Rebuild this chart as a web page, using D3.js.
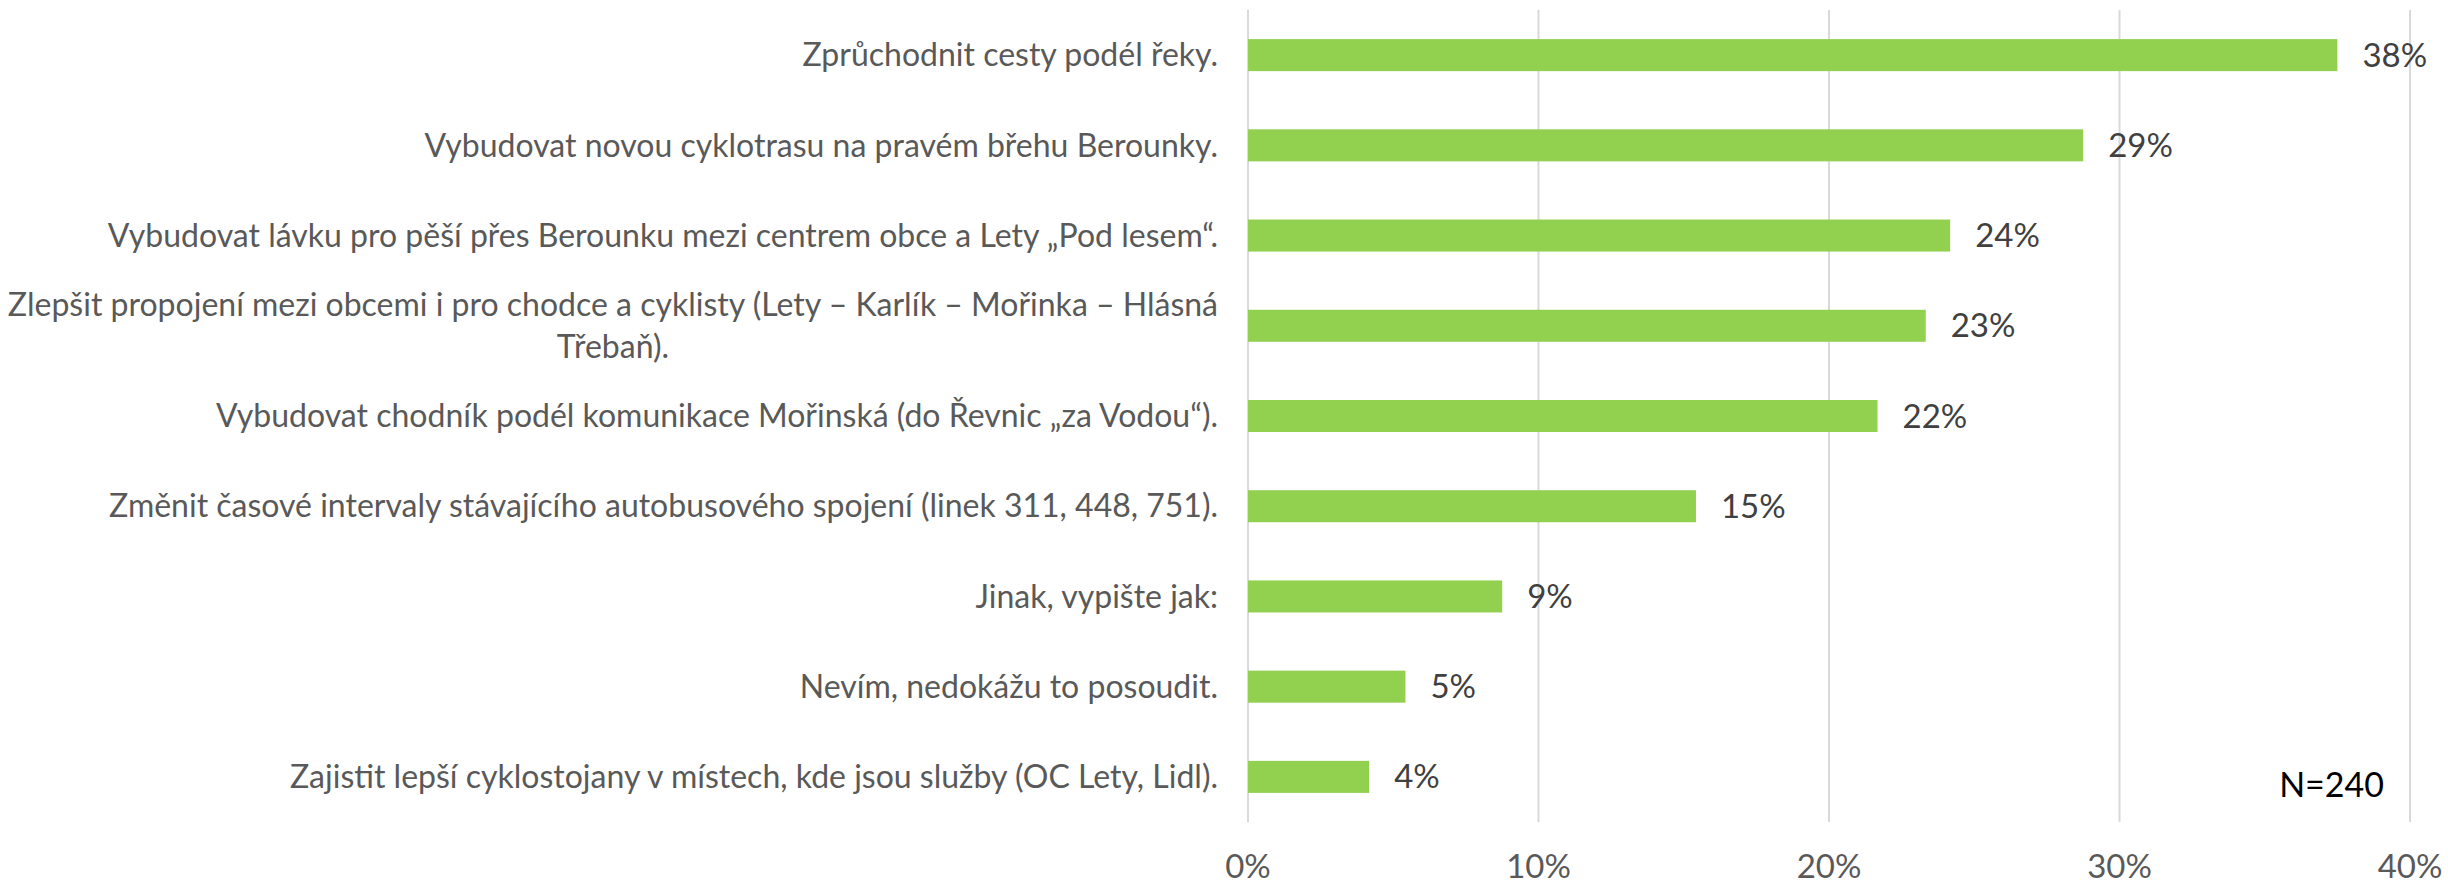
<!DOCTYPE html>
<html>
<head>
<meta charset="utf-8">
<script src="https://cdn.jsdelivr.net/npm/d3@7"></script>
<style>
  body { margin: 0; background: #fff; }
  text { font-family: Lato, "Open Sans", sans-serif; }
</style>
</head>
<body>
<div id="chart"></div>
<script>
const categories = [
    'Zprůchodnit cesty podél řeky.',
    'Vybudovat novou cyklotrasu na pravém břehu Berounky.',
    'Vybudovat lávku pro pěší přes Berounku mezi centrem obce a Lety „Pod lesem“.',
    'Zlepšit propojení mezi obcemi i pro chodce a cyklisty (Lety – Karlík – Mořinka – Hlásná|Třebaň).',
    'Vybudovat chodník podél komunikace Mořinská (do Řevnic „za Vodou“).',
    'Změnit časové intervaly stávajícího autobusového spojení (linek 311, 448, 751).',
    'Jinak, vypište jak:',
    'Nevím, nedokážu to posoudit.',
    'Zajistit lepší cyklostojany v místech, kde jsou služby (OC Lety, Lidl).'
];
const values = [0.375, 0.2875, 0.2417, 0.2333, 0.2167, 0.1542, 0.0875, 0.0542, 0.0417];
const xTicks = [0, 0.1, 0.2, 0.3, 0.4];
const note = 'N=240';

const width = 2448;
const height = 888;

const svg = d3.select('#chart').append('svg')
    .attr('width', width)
    .attr('height', height);

const x = d3.scaleLinear()
    .domain([0, 0.4])
    .range([1248, 2410]);

const y = d3.scaleBand()
    .domain(categories)
    .range([10, 822])
    .paddingInner(0.645)
    .paddingOuter(0.3225);

// gridlines
svg.append('g')
    .selectAll('line')
    .data(xTicks)
    .enter()
    .append('line')
    .attr('x1', d => x(d))
    .attr('x2', d => x(d))
    .attr('y1', 10)
    .attr('y2', 822)
    .attr('stroke', '#d9d9d9')
    .attr('stroke-width', 2);

// bars
svg.append('g')
    .selectAll('rect')
    .data(values)
    .enter()
    .append('rect')
    .attr('x', x(0))
    .attr('y', (d, i) => y(categories[i]))
    .attr('width', d => x(d) - x(0))
    .attr('height', y.bandwidth())
    .attr('fill', '#92d050');

// value labels
svg.append('g')
    .selectAll('text')
    .data(values)
    .enter()
    .append('text')
    .attr('x', d => x(d) + 25)
    .attr('y', (d, i) => y(categories[i]) + y.bandwidth() / 2)
    .attr('dy', '0.35em')
    .attr('font-size', 33)
    .attr('fill', '#404040')
    .text(d => Math.round(d * 100) + '%');

// category labels
const labels = svg.append('g')
    .selectAll('text')
    .data(categories)
    .enter()
    .append('text')
    .attr('font-size', 32)
    .attr('fill', '#595959');

labels.each(function(d) {
    const lines = d.split('|');
    const cy = y(d) + y.bandwidth() / 2;
    const t = d3.select(this);
    if (lines.length === 1) {
        t.attr('x', 1218).attr('y', cy).attr('dy', '0.35em')
            .attr('text-anchor', 'end').text(d);
    } else {
        // first line right-aligned, the rest centred under it
        const first = t.append('tspan')
            .attr('x', 1218).attr('y', cy - 21).attr('dy', '0.35em')
            .attr('text-anchor', 'end').text(lines[0]);
        const w = first.node().getComputedTextLength();
        t.append('tspan')
            .attr('x', 1218 - w / 2).attr('y', cy + 21).attr('dy', '0.35em')
            .attr('text-anchor', 'middle').text(lines[1]);
    }
});

// x axis tick labels
svg.append('g')
    .selectAll('text')
    .data(xTicks)
    .enter()
    .append('text')
    .attr('x', d => x(d))
    .attr('y', 866)
    .attr('dy', '0.35em')
    .attr('text-anchor', 'middle')
    .attr('font-size', 33)
    .attr('fill', '#595959')
    .text(d => Math.round(d * 100) + '%');

svg.append('text')
    .attr('x', 2384)
    .attr('y', 785)
    .attr('dy', '0.35em')
    .attr('text-anchor', 'end')
    .attr('font-size', 34)
    .attr('fill', '#000')
    .text(note);
</script>
</body>
</html>
